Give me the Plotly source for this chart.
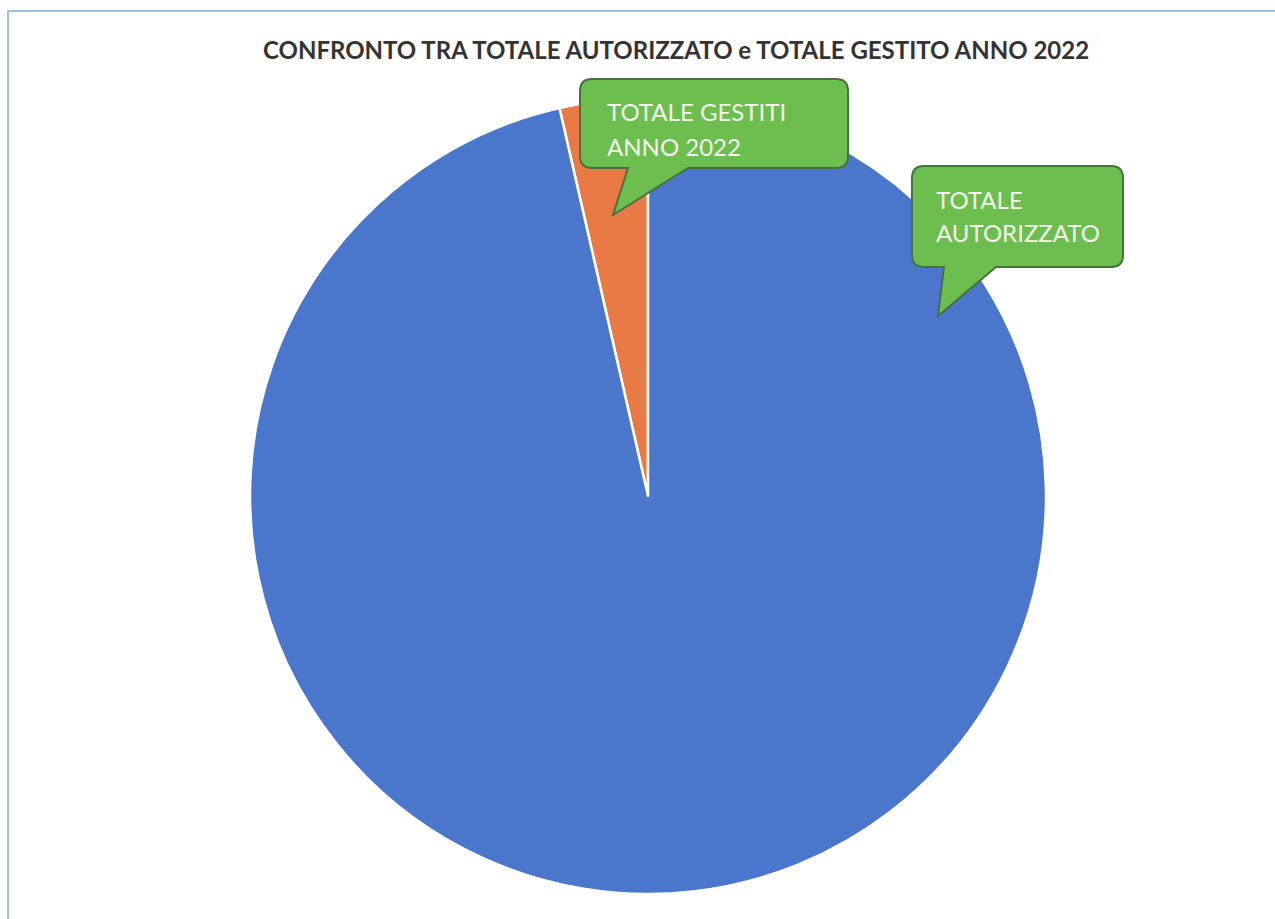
import plotly.graph_objects as go

# Pie data: managed total vs authorised total, year 2022
categories = ["TOTALE GESTITI ANNO 2022", "TOTALE AUTORIZZATO"]
values = [1000, 27000]
slice_colors = ["#EA7A45", "#4A76CC"]

title_text = "CONFRONTO TRA TOTALE AUTORIZZATO e TOTALE GESTITO ANNO 2022"

W, H = 1275, 919

fig = go.Figure()

# pixel-space overlay axes for the frame and the callout balloons
fig.update_layout(
    xaxis=dict(range=[0, W], visible=False, fixedrange=True),
    yaxis=dict(range=[H, 0], visible=False, fixedrange=True),
)

# the small slice should end exactly at 12 o'clock, sweeping clockwise
small_angle = values[0] / sum(values) * 360

# pie circle: centre (648, 496), radius 398 px
cx, cy, r = 648, 496, 398
fig.add_trace(go.Pie(
    labels=categories,
    values=values,
    sort=False,
    direction="clockwise",
    rotation=-small_angle,
    marker=dict(colors=slice_colors, line=dict(color="white", width=2.5)),
    textinfo="none",
    hoverinfo="label+value+percent",
    showlegend=False,
    domain=dict(x=[(cx - r) / W, (cx + r) / W],
                y=[1 - (cy + r) / H, 1 - (cy - r) / H]),
))


def balloon(x0, y0, x1, y1, rad, ba, bb, tip):
    """Rounded rectangle with a pointer hanging from its bottom edge."""
    tx, ty = tip
    return (
        f"M {x0 + rad},{y0} L {x1 - rad},{y0} Q {x1},{y0} {x1},{y0 + rad} "
        f"L {x1},{y1 - rad} Q {x1},{y1} {x1 - rad},{y1} "
        f"L {bb},{y1} L {tx},{ty} L {ba},{y1} "
        f"L {x0 + rad},{y1} Q {x0},{y1} {x0},{y1 - rad} "
        f"L {x0},{y0 + rad} Q {x0},{y0} {x0 + rad},{y0} Z"
    )


green_fill = "#6CBE4E"
green_edge = "#46713F"

shapes = [
    # outer chart frame (runs off the right and bottom edges)
    dict(type="rect", xref="x", yref="y", x0=8, y0=11, x1=W + 20, y1=H + 20,
         line=dict(color="#9CC2E2", width=2), fillcolor="rgba(0,0,0,0)",
         layer="below"),
    dict(type="path", xref="x", yref="y",
         path=balloon(580, 79, 848, 168, 12, 628, 688, (613, 215)),
         fillcolor=green_fill, line=dict(color=green_edge, width=2),
         layer="above"),
    dict(type="path", xref="x", yref="y",
         path=balloon(912, 166, 1123, 267, 12, 944, 996, (938, 316)),
         fillcolor=green_fill, line=dict(color=green_edge, width=2),
         layer="above"),
]

label_font = dict(family="Lato, Open Sans, sans-serif", size=24, color="#F4F7EC")
annotations = [
    dict(x=676, y=49, xref="x", yref="y", text=f"<b>{title_text}</b>",
         showarrow=False, xanchor="center", yanchor="middle",
         font=dict(family="Lato, Open Sans, sans-serif", size=24, color="#333333")),
    dict(x=605, y=111, xref="x", yref="y", text="TOTALE GESTITI",
         showarrow=False, xanchor="left", yanchor="middle", font=label_font),
    dict(x=605, y=146, xref="x", yref="y", text="ANNO 2022",
         showarrow=False, xanchor="left", yanchor="middle", font=label_font),
    dict(x=934, y=199, xref="x", yref="y", text="TOTALE",
         showarrow=False, xanchor="left", yanchor="middle", font=label_font),
    dict(x=934, y=232, xref="x", yref="y", text="AUTORIZZATO",
         showarrow=False, xanchor="left", yanchor="middle", font=label_font),
]

fig.update_layout(
    width=W, height=H,
    margin=dict(l=0, r=0, t=0, b=0),
    paper_bgcolor="white",
    plot_bgcolor="white",
    shapes=shapes,
    annotations=annotations,
)

fig.write_html("out.html")
